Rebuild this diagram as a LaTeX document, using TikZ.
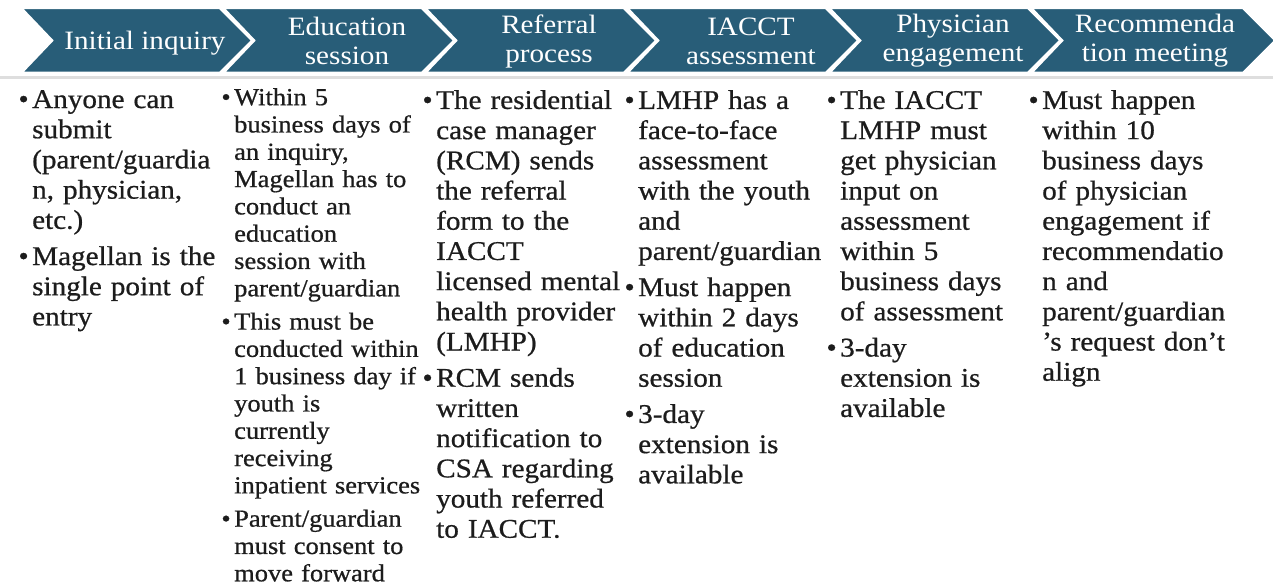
\documentclass[tikz,border=0pt]{standalone}
\usepackage{fontspec}
\setmainfont[FakeStretch=1.1]{Liberation Serif}
\newfontfamily\bodyfont[FakeStretch=1.08,FakeBold=0.7]{Liberation Serif}
\definecolor{stepblue}{RGB}{40,93,120}
\definecolor{bodyink}{RGB}{28,28,28}
\newcommand{\blt}{\noindent\llap{\textbullet\hspace{3.5pt}}}
\newcommand{\nxt}{\par\vspace{6pt}\blt}

\begin{document}
\begin{tikzpicture}[x=1pt,y=-1pt,
  hdtext/.style={text=white,align=center,inner sep=0pt,font=\fontsize{26.5}{29}\selectfont},
  col/.style={anchor=north west,inner sep=0pt,text width=215pt,align=left,text=bodyink,font=\bodyfont\fontsize{27}{30.2}\selectfont},
  colsmall/.style={col,font=\bodyfont\fontsize{24.5}{27.3}\selectfont}]
  \useasboundingbox (0,0) rectangle (1273,588);

  % chevrons
  \foreach \i/\w in {0/199,1/199,2/199,3/199,4/199,5/212}
    \filldraw[fill=stepblue,draw=white,line width=2.5pt]
      ({21+202*\i},8) -- ++(\w,0) -- ++(32.5,32.5) -- ++(-32.5,32.5)
      -- ({21+202*\i},73) -- ++(31,-32.5) -- cycle;
  \fill[black!13] (0,76) rectangle (1273,79);

  \node[hdtext] (hd1) at (145,43) {Initial inquiry};
  \node[hdtext] (hd2) at (347,41) {Education\\session};
  \node[hdtext] (hd3) at (549,41) {Referral\\process};
  \node[hdtext] (hd4) at (751,41) {IACCT\\assessment};
  \node[hdtext] (hd5) at (953,41) {Physician\\engagement};
  \node[hdtext] (hd6) at (1155,41) {Recommenda\\tion meeting};

  \node[col] (col1) at (32,90) {\blt Anyone can\\submit\\(parent/guardia\\n, physician,\\etc.)
    \nxt Magellan is the\\single point of\\entry};
  \node[colsmall] (col2) at (234,88) {\blt Within 5\\business days of\\an inquiry,\\Magellan has to\\conduct an\\education\\session with\\parent/guardian
    \nxt This must be\\conducted within\\1 business day if\\youth is\\currently\\receiving\\inpatient services
    \nxt Parent/guardian\\must consent to\\move forward};
  \node[col] (col3) at (436,90) {\blt The residential\\case manager\\(RCM) sends\\the referral\\form to the\\IACCT\\licensed mental\\health provider\\(LMHP)
    \nxt RCM sends\\written\\notification to\\CSA regarding\\youth referred\\to IACCT.};
  \node[col] (col4) at (638,90) {\blt LMHP has a\\face-to-face\\assessment\\with the youth\\and\\parent/guardian
    \nxt Must happen\\within 2 days\\of education\\session
    \nxt 3-day\\extension is\\available};
  \node[col] (col5) at (840,90) {\blt The IACCT\\LMHP must\\get physician\\input on\\assessment\\within 5\\business days\\of assessment
    \nxt 3-day\\extension is\\available};
  \node[col] (col6) at (1042,90) {\blt Must happen\\within 10\\business days\\of physician\\engagement if\\recommendatio\\n and\\parent/guardian\\’s request don’t\\align};
\end{tikzpicture}
\end{document}
